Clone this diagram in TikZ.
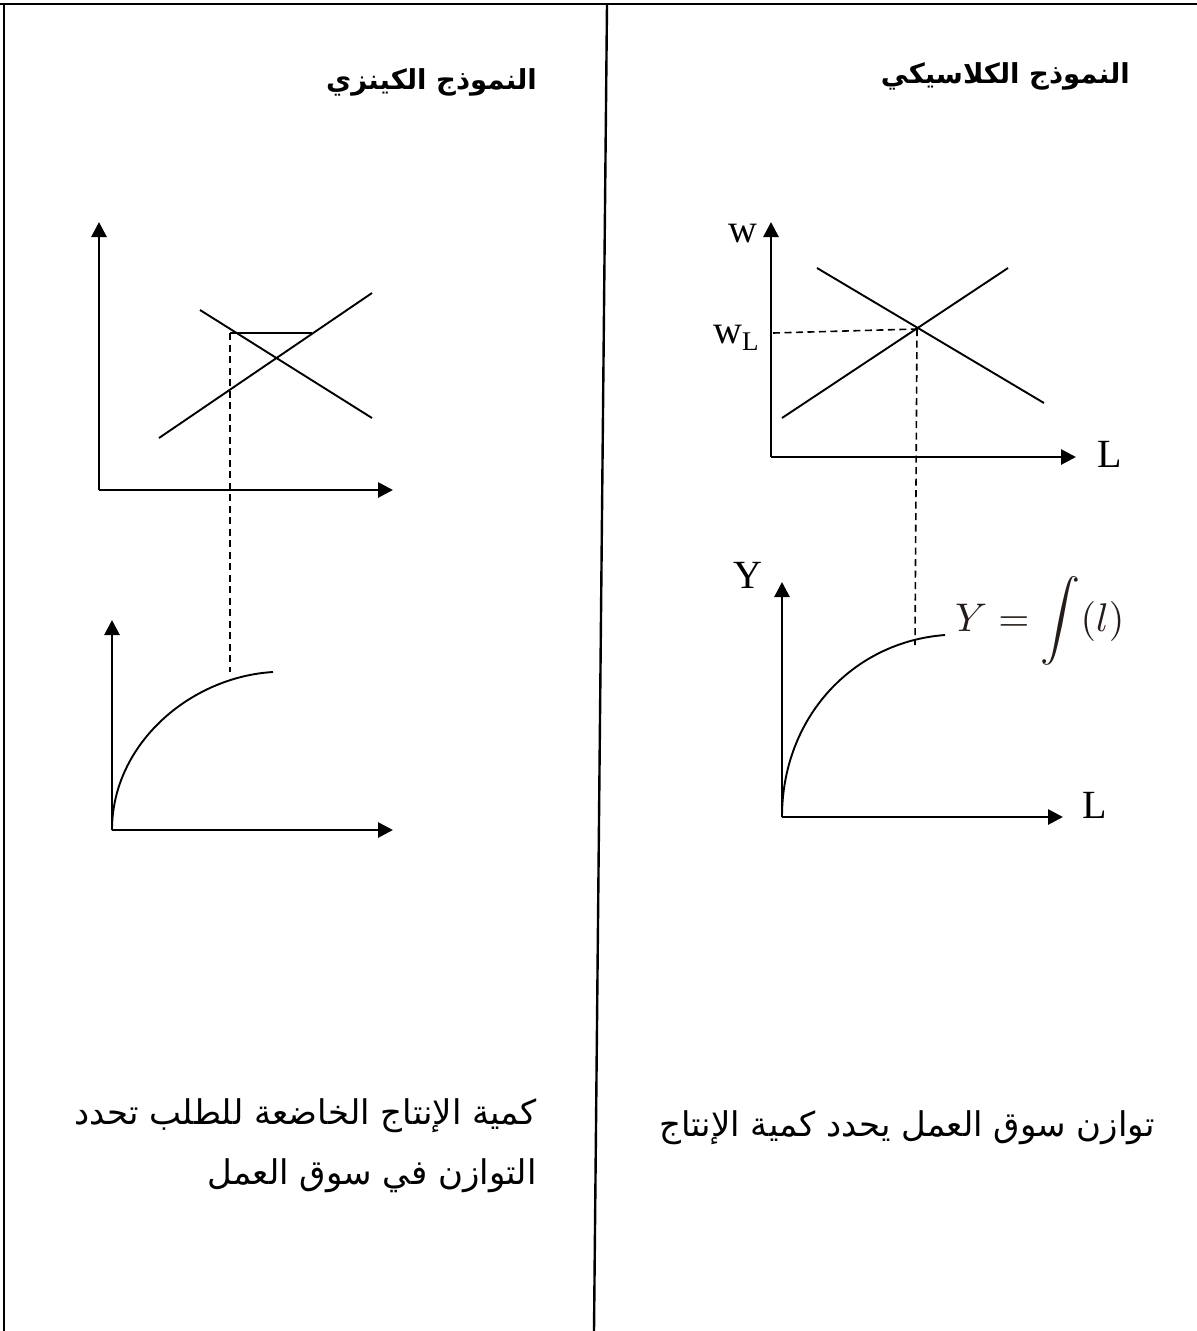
\documentclass[tikz,border=0pt]{standalone}
\usepackage{graphicx}
\usepackage{fontspec}
\setmainfont{Liberation Serif}
\newfontfamily\arabicfont[Script=Arabic]{DejaVu Sans}
\TeXXeTstate=1
\usetikzlibrary{arrows.meta}
\definecolor{formulacol}{RGB}{35,28,25}
\tikzset{
  axis/.style={line width=2.8pt, -{Triangle[length=15pt,width=15pt]}},
  curveline/.style={line width=1.9pt},
  guide/.style={line width=1.6pt, dash pattern=on 7pt off 4.5pt},
  frame/.style={line width=2.4pt},
  lbl/.style={font=\fontsize{40}{40}\selectfont, inner sep=0pt, anchor=base west},
  head/.style={font=\arabicfont\bfseries\fontsize{27.5}{32}\selectfont, inner sep=0pt, anchor=east},
  body/.style={font=\arabicfont\fontsize{34}{40}\selectfont, inner sep=0pt, anchor=east},
}
\begin{document}
\begin{tikzpicture}[x=1pt,y=-1pt]
\useasboundingbox (0,0) rectangle (1197,1331);
% frame
\coordinate (tl) at (0,4); \coordinate (tr) at (1197,4);
\coordinate (lt) at (4,4); \coordinate (lb) at (4,1331);
\coordinate (dt) at (607,4); \coordinate (db) at (594,1331);
\draw[frame] (tl) -- (tr);
\draw[frame] (lt) -- (lb);
\draw[frame] (dt) -- (db);

% headers
\node[head] (hc) at (1130,76) {\beginR النموذج الكلاسيكي\endR};
\node[head] (hk) at (537,82) {\beginR النموذج الكينزي\endR};

% ---------- classical: labour market ----------
\coordinate (c1o) at (771,457);
\coordinate (c1y) at (771,222);
\coordinate (c1x) at (1076,457);
\draw[axis] (c1o) -- (c1y);
\draw[axis] (c1o) -- (c1x);
\coordinate (cd1) at (817,268); \coordinate (cd2) at (1044,403);
\coordinate (cs1) at (782,418); \coordinate (cs2) at (1008,268);
\draw[curveline] (cd1) -- (cd2);
\draw[curveline] (cs1) -- (cs2);
\coordinate (ce) at (917,329);
\coordinate (cwl) at (773,333);
\coordinate (cdown) at (915,645);
\draw[guide] (cwl) -- (ce);
\draw[guide] (ce) -- (cdown);
\node[lbl] (lw) at (728,242) {w};
\node[lbl] (lwl) at (713,343) {w\raisebox{-7pt}{\fontsize{27}{27}\selectfont L}};
\node[lbl] (lL1) at (1097,467) {L};

% ---------- classical: production ----------
\coordinate (c2o) at (782,817);
\coordinate (c2y) at (782,582);
\coordinate (c2x) at (1063,817);
\draw[axis] (c2o) -- (c2y);
\draw[axis] (c2o) -- (c2x);
\coordinate (c2e) at (945,635);
\draw[curveline] (c2o) .. controls (782,718) and (852,642) .. (c2e);
\node[lbl] (lY) at (733,588) {Y};
\node[lbl] (lL2) at (1082,818) {L};
\node[inner sep=0pt, anchor=west, text=formulacol] (fy) at (955,621) {\scalebox{4.0}{$\displaystyle Y=\int(l)$}};

% ---------- Keynesian: labour market ----------
\coordinate (k1o) at (99,490);
\coordinate (k1y) at (99,222);
\coordinate (k1x) at (393,490);
\draw[axis] (k1o) -- (k1y);
\draw[axis] (k1o) -- (k1x);
\coordinate (kd1) at (200,310); \coordinate (kd2) at (372,418);
\coordinate (ks1) at (159,438); \coordinate (ks2) at (372,293);
\draw[curveline] (kd1) -- (kd2);
\draw[curveline] (ks1) -- (ks2);
\coordinate (kh1) at (230,333); \coordinate (kh2) at (312,333);
\draw[curveline] (kh1) -- (kh2);
\coordinate (kdown) at (230,672);
\draw[guide] (kh1) -- (kdown);

% ---------- Keynesian: production ----------
\coordinate (k2o) at (112,830);
\coordinate (k2y) at (112,620);
\coordinate (k2x) at (393,830);
\draw[axis] (k2o) -- (k2y);
\draw[axis] (k2o) -- (k2x);
\coordinate (k2e) at (273,672);
\draw[curveline] (k2o) .. controls (112,744) and (190,677) .. (k2e);

% bottom texts
\node[body] (tc) at (1155,1128) {\beginR توازن سوق العمل يحدد كمية الإنتاج\endR};
\node[body] (tk1) at (537,1116) {\beginR كمية الإنتاج الخاضعة للطلب تحدد\endR};
\node[body] (tk2) at (537,1176) {\beginR التوازن في سوق العمل\endR};
\end{tikzpicture}
\end{document}
